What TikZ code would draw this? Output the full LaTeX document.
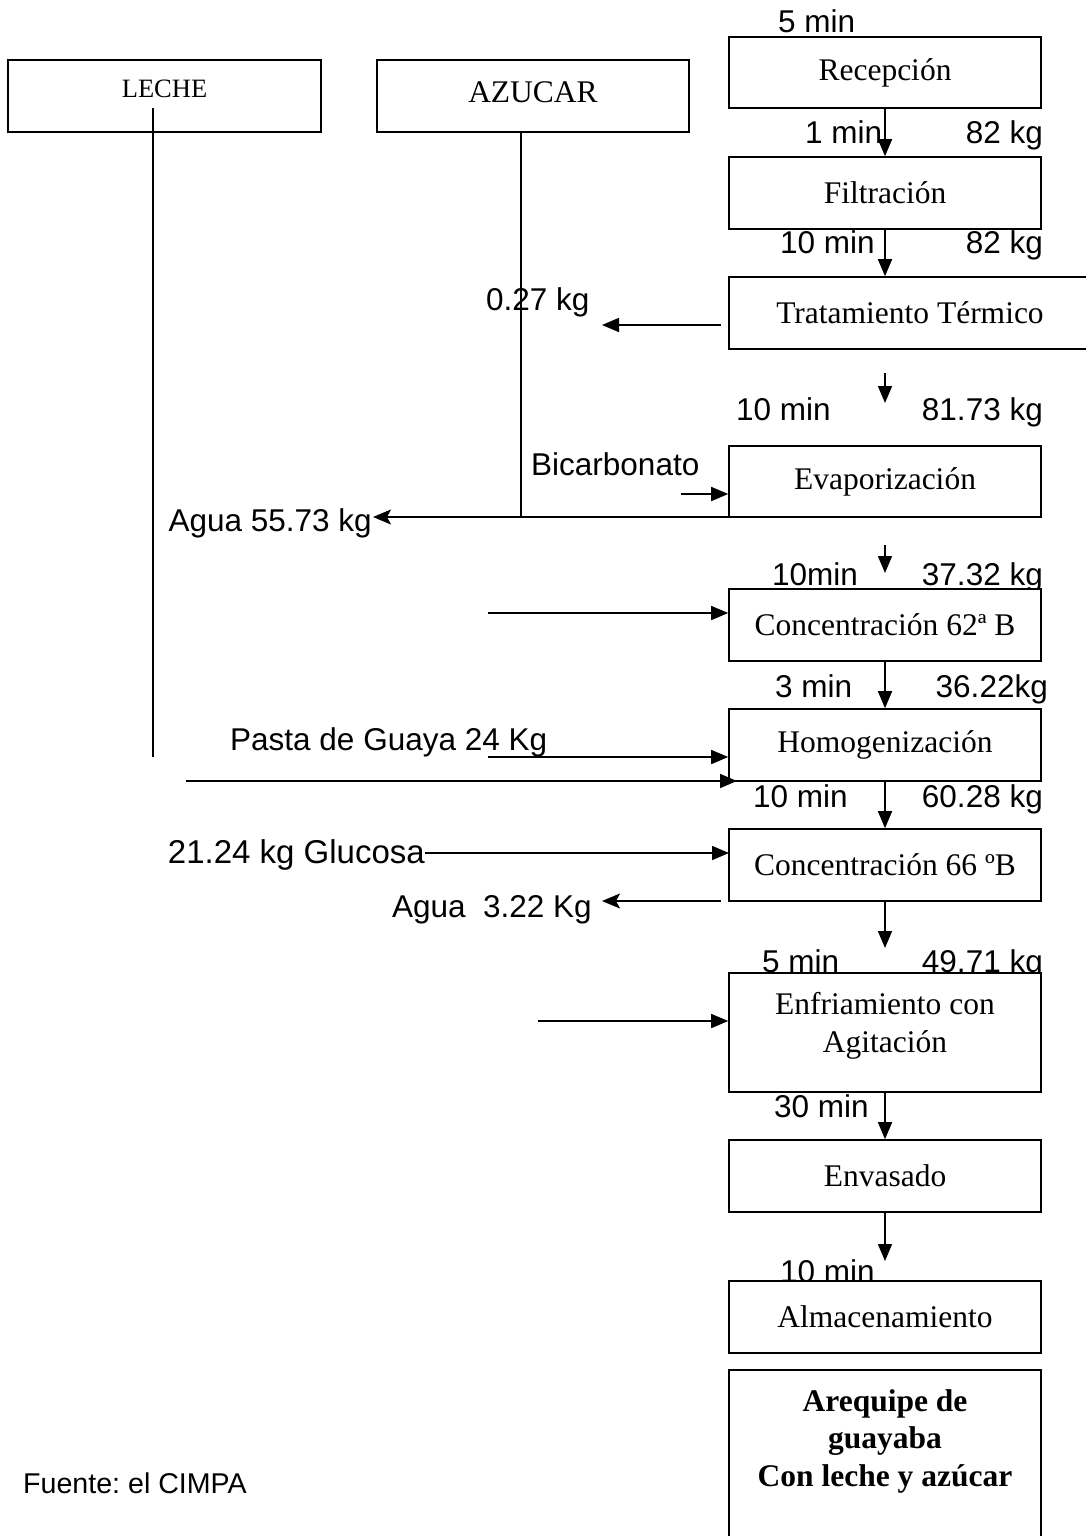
\documentclass[tikz,border=0pt]{standalone}
\usepackage{fontspec}
\setmainfont{Liberation Serif}
\newfontfamily\lsans{Liberation Sans}
\usetikzlibrary{arrows.meta}
\frenchspacing
\tikzset{
  box/.style={draw, fill=white, line width=1.6pt, minimum width=312pt, minimum height=72pt, inner sep=0pt,
    font=\fontsize{31.5}{37.5}\selectfont},
  lblw/.style={font=\lsans\fontsize{31.5}{37.5}\selectfont, inner sep=0pt, anchor=base west},
  lble/.style={font=\lsans\fontsize{31.5}{37.5}\selectfont, inner sep=0pt, anchor=base east},
  ln/.style={line width=1.6pt},
  arr/.style={line width=1.6pt, -{Triangle[length=17pt,width=14pt]}},
  arrs/.style={line width=1.6pt, -{Stealth[length=18pt,width=15pt,inset=4pt]}}
}
\begin{document}
\begin{tikzpicture}[x=1pt,y=-1pt]
\useasboundingbox (0,0) rectangle (1086,1536);
\fill[white] (0,0) rectangle (1086,1536);

% ---- labels (drawn before boxes so box fill covers descenders)
\node[lblw] (l5a) at (778,33) {5 min};
\node[lblw] (l1) at (805,143) {1 min};
\node[lble] (k82a) at (1043,143) {82 kg};
\node[lblw] (l10a) at (780,253) {10 min};
\node[lble] (k82b) at (1043,253) {82 kg};
\node[lblw] (k027) at (486,310) {0.27 kg};
\node[lblw] (l10b) at (736,420) {10 min};
\node[lble] (k8173) at (1043,420) {81.73 kg};
\node[lblw] (bic) at (531,475) {Bicarbonato};
\node[lble] (agua1) at (372,531) {Agua 55.73 kg};
\node[lblw] (l10c) at (772,585) {10min};
\node[lble] (k3732) at (1043,585) {37.32 kg};
\node[lblw] (l3) at (775,697) {3 min};
\node[lble] (k3622) at (1048,697) {36.22kg};
\node[lblw] (pasta) at (230,750) {Pasta de Guaya 24 Kg};
\node[lblw] (l10d) at (753,807) {10 min};
\node[lble] (k6028) at (1043,807) {60.28 kg};
\node[lble, font=\lsans\fontsize{33}{38}\selectfont] (gluc) at (425,863) {21.24 kg Glucosa};
\node[lble] (agua2) at (592,917) {Agua\ \ 3.22 Kg};
\node[lblw] (l5b) at (762,972) {5 min};
\node[lble] (k4971) at (1043,972) {49.71 kg};
\node[lblw] (l30) at (774,1117) {30 min};
\node[lblw] (l10e) at (780,1282) {10 min};
\node[font=\lsans\fontsize{28.6}{34}\selectfont, inner sep=0pt, anchor=base west] (fuente) at (23,1493) {Fuente: el CIMPA};

% ---- boxes
\node[box, minimum width=313pt, font=\fontsize{26.5}{30}\selectfont, text depth=14pt] (leche) at (164.5,96) {LECHE};
\node[box, text depth=8pt] (azucar) at (533,96) {AZUCAR};
\node[box, minimum height=71pt] (recep) at (885,72.5) {Recepción};
\node[box] (filt) at (885,193) {Filtración};
\node[box, minimum width=362pt] (trat) at (910,313) {Tratamiento Térmico};
\node[box, minimum height=71pt] (evap) at (885,481.5) {Evaporización};
\node[box] (c62) at (885,625) {Concentración 62ª B};
\node[box] (homog) at (885,745) {Homogenización};
\node[box] (c66) at (885,865) {Concentración 66 ºB};
\node[box, minimum height=119pt, align=center, text depth=20pt] (enfr) at (885,1032.5) {Enfriamiento con\\Agitación};
\node[box] (envas) at (885,1176) {Envasado};
\node[box] (almac) at (885,1317) {Almacenamiento};
\node[box, minimum height=220pt] (prod) at (885,1480) {};
\node[font=\bfseries\fontsize{31.5}{37.5}\selectfont, align=center, inner sep=0pt] (prodtxt) at (885,1441) {Arequipe de\\guayaba\\Con leche y azúcar};

% ---- coordinates for free ends
\coordinate (lc1) at (153,108);
\coordinate (lc2) at (153,757);
\coordinate (az2) at (521,517);
\coordinate (t1) at (885,373);
\coordinate (t2) at (885,403);
\coordinate (w1) at (721,325);
\coordinate (w2) at (602,325);
\coordinate (b1) at (681,494);
\coordinate (e1) at (737,517);
\coordinate (e2) at (885,545);
\coordinate (e3) at (885,573);
\coordinate (c62in) at (488,613);
\coordinate (pin) at (488,757);
\coordinate (lin) at (186,781);
\coordinate (lend) at (737,781);
\coordinate (g1) at (729,853);
\coordinate (w3) at (721,901);
\coordinate (w4) at (602,901);
\coordinate (c66o) at (885,948);
\coordinate (ein) at (538,1021);
\coordinate (envo) at (885,1261);

% ---- connectors
\draw[ln] (lc1) -- (lc2);
\draw[ln] (azucar.south -| az2) -- (az2);
\draw[arr] (recep.south) -- (filt.north);
\draw[arr] (filt.south) -- (filt.south |- trat.north);
\draw[arr] (w1) -- (w2);
\draw[arr] (t1) -- (t2);
\draw[arr] (b1) -- (b1 -| evap.west);
\draw[arrs] (e1) -- ([xshift=1pt]agua1.east |- e1);
\draw[arr] (e2) -- (e3);
\draw[arr] (c62in) -- (c62in -| c62.west);
\draw[arr] (c62.south) -- (homog.north);
\draw[arr] (pin) -- (pin -| homog.west);
\draw[arr] (lin) -- (lend);
\draw[arr] (homog.south) -- (c66.north);
\draw[arr] (gluc.east |- g1) -- (g1);
\draw[arrs] (w3) -- (w4);
\draw[arr] (c66.south) -- (c66o);
\draw[arr] (ein) -- (ein -| enfr.west);
\draw[arr] (enfr.south) -- (envas.north);
\draw[arr] (envas.south) -- (envo);
\end{tikzpicture}
\end{document}
